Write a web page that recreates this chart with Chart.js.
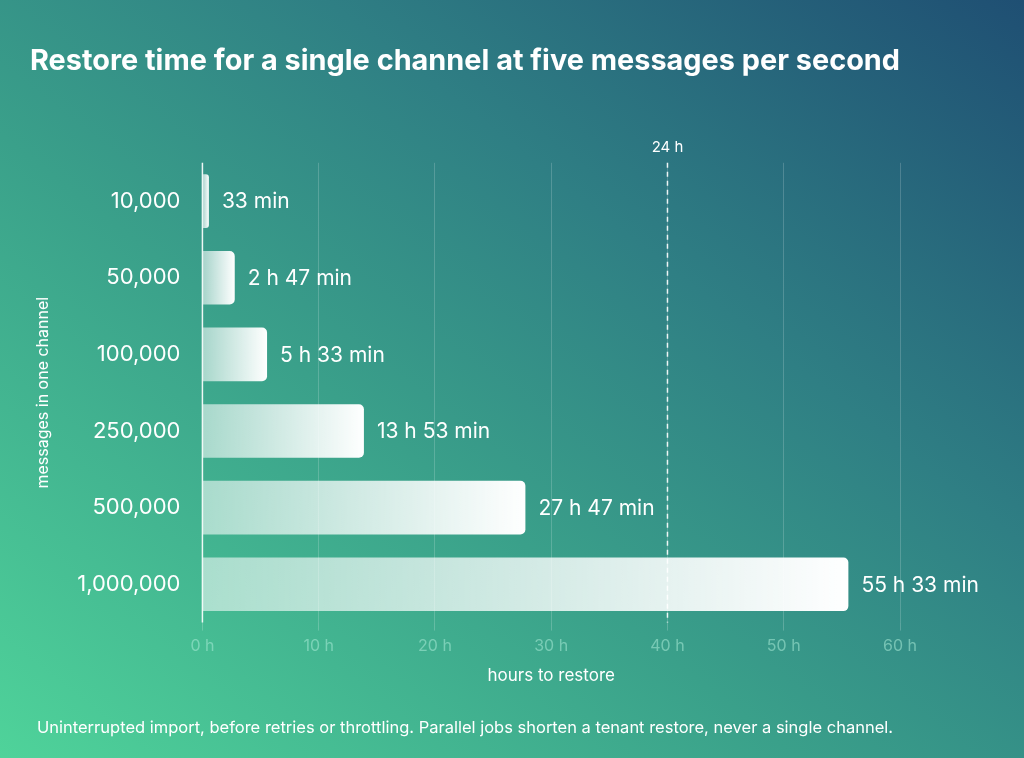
<!DOCTYPE html>
<html><head><meta charset="utf-8">
<script src="https://cdn.jsdelivr.net/npm/chart.js@4"></script>
<style>
html,body{margin:0;padding:0;width:1024px;height:758px;overflow:hidden;}
body{background:linear-gradient(38deg,#4fd39a 0%,#3aa08a 40%,#2f7f84 65%,#1f4f73 100%);font-family:Inter,sans-serif;}
#wrap{position:absolute;left:0;top:0;width:1024px;height:758px;}
</style></head><body>
<div id="wrap"><canvas id="c" width="1024" height="758"></canvas></div>
<script>
const categories = ["10,000","50,000","100,000","250,000","500,000","1,000,000"];
const hours = [0.556, 2.78, 5.56, 13.89, 27.78, 55.56];
const valueLabels = ["33 min","2 h 47 min","5 h 33 min","13 h 53 min","27 h 47 min","55 h 33 min"];
const markerValue = 40;
const markerLabel = "24 h";

const extras = {
  id:'extras',
  afterDatasetsDraw(chart){
    const {ctx, chartArea:a, scales:{x}} = chart;
    ctx.save();
    const mx = x.getPixelForValue(markerValue);
    ctx.strokeStyle='rgba(255,255,255,0.9)'; ctx.lineWidth=1.5; ctx.setLineDash([5,4]);
    ctx.beginPath(); ctx.moveTo(mx,a.top); ctx.lineTo(mx,a.bottom); ctx.stroke();
    ctx.setLineDash([]);
    ctx.fillStyle='#fff'; ctx.font='15px Inter'; ctx.textAlign='center'; ctx.textBaseline='bottom';
    ctx.fillText(markerLabel, mx, a.top-8);
    const meta = chart.getDatasetMeta(0);
    ctx.font='21px Inter'; ctx.textAlign='left'; ctx.textBaseline='middle';
    meta.data.forEach((b,i)=>{ ctx.fillText(valueLabels[i], b.x+13, b.y+1); });
    ctx.strokeStyle='rgba(255,255,255,0.9)'; ctx.lineWidth=1.5;
    const x0=x.getPixelForValue(0);
    ctx.beginPath(); ctx.moveTo(x0,a.top); ctx.lineTo(x0,a.bottom); ctx.stroke();
    ctx.restore();
  }
};

new Chart(document.getElementById('c'),{
  type:'bar',
  data:{labels:categories,datasets:[{data:hours,
    backgroundColor(ctx){
      const c=ctx.chart; const a=c.chartArea; if(!a || ctx.parsed===undefined) return '#fff';
      const end=c.scales.x.getPixelForValue(ctx.parsed.x);
      const g=c.ctx.createLinearGradient(a.left,0,Math.max(end,a.left+2),0);
      g.addColorStop(0,'rgba(255,255,255,0.55)'); g.addColorStop(1,'rgba(255,255,255,1)');
      return g;
    },
    borderRadius:{topLeft:0,bottomLeft:0,topRight:5,bottomRight:5},borderSkipped:false,
    barPercentage:0.7,categoryPercentage:1}]},
  options:{
    indexAxis:'y',responsive:false,animation:false,
    layout:{padding:{left:30,right:124,top:20,bottom:20}},
    plugins:{legend:{display:false},tooltip:{enabled:false},
      title:{display:true,text:'Restore time for a single channel at five messages per second',
        color:'#fff',font:{family:'Inter',size:29,weight:'bold'},padding:{top:24,bottom:84}},
      subtitle:{display:true,position:'bottom',align:'center',
        text:'Uninterrupted import, before retries or throttling. Parallel jobs shorten a tenant restore, never a single channel.',
        color:'#fff',font:{family:'Inter',size:16.5},padding:{top:28,bottom:0}}},
    scales:{
      x:{min:0,max:60,position:'bottom',
        ticks:{stepSize:10,color:'rgba(170,235,215,0.55)',font:{family:'Inter',size:16},padding:6,callback:v=>v+' h'},
        grid:{color:'rgba(255,255,255,0.18)',drawTicks:true,tickLength:8,tickColor:'rgba(255,255,255,0.2)'},
        border:{display:false},
        title:{display:true,text:'hours to restore',color:'#fff',font:{family:'Inter',size:17},padding:{top:4}}},
      y:{ticks:{color:'#fff',font:{family:'Inter',size:22},padding:14},
        grid:{display:false},border:{display:false},
        title:{display:true,text:'messages in one channel',color:'#fff',font:{family:'Inter',size:16},padding:{bottom:10}}}
    }
  },
  plugins:[extras]
});
</script>
</body></html>
